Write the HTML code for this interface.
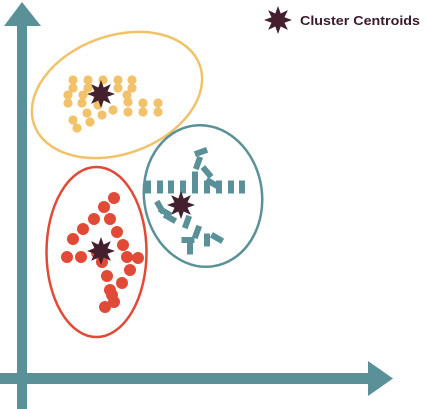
<!DOCTYPE html>
<html><head><meta charset="utf-8">
<style>
html,body{margin:0;padding:0;background:#fff;}
svg{display:block;}
</style></head>
<body>
<svg id="chart" width="428" height="409" viewBox="0 0 428 409" xmlns="http://www.w3.org/2000/svg">
  <rect width="428" height="409" fill="#fff"/>
  <g id="clusters"></g>
  <g>
    <rect x="17" y="24" width="10" height="385" fill="#5a9198"/>
    <polygon points="22,2 41,26 4,26" fill="#5a9198"/>
  </g>
  <g>
    <rect x="0" y="373" width="370" height="11" fill="#5a9198"/>
    <polygon points="368,361 393,378.5 368,396" fill="#5a9198"/>
  </g>
  <g>
    <g id="legendStar"></g>
    <text x="300" y="25" font-family="Liberation Sans, sans-serif" font-weight="bold" font-size="13" textLength="120" lengthAdjust="spacingAndGlyphs" fill="#3d1a2a">Cluster Centroids</text>
  </g>
</svg>
<script>
const yellowPts=[[73,80],[88,80],[103,80],[118,80],[132,80],[73,88],[88,88],[118,88],[132,88],[68,95],[83,95],[97,95],[127,95],[68,103],[82,103],[98,105],[113,110],[128,102],[128,112],[143,103],[143,112],[158,103],[158,112],[87,113],[102,115],[73,120],[90,122],[77,128]];
const redPts=[[114,198],[104,207],[110,219],[94,219],[83,229],[117,232],[73,239],[123,245],[67,257],[81,257],[97,253],[102,262],[127,257],[138,258],[130,270],[107,276],[122,283],[110,290],[112,295],[114,302],[105,307]];
const tealDashes=[[148,187,0],[160,187,0],[171,187,0],[183,187,0],[195,187,0],[207,187,0],[219,187,0],[231,187,0],[242,187,0],[201,152,70],[198,163,20],[207,172,-40],[195,178,0],[212,183,-60],[165,212,-60],[170,218,-60],[187,222,20],[197,232,20],[188,240,90],[207,240,0],[217,238,-60],[190,248,0],[160,207,-30]];
const centroids=[[101,94],[181,205],[101,251]];
const ellipses=[[117,95,88,59,-20,'#f2c26a'],[203,196,59,71,-8,'#5a9198'],[96.5,252,50,85,0,'#e04a37']];
const NS='http://www.w3.org/2000/svg';
const g=document.getElementById('clusters');
function mk(t,a){const e=document.createElementNS(NS,t);for(const k in a)e.setAttribute(k,a[k]);return e;}
ellipses.forEach(e=>{
  const el=mk('ellipse',{cx:e[0],cy:e[1],rx:e[2],ry:e[3],fill:'none',stroke:e[5],'stroke-width':2.5,transform:`rotate(${e[4]} ${e[0]} ${e[1]})`});
  
  
  g.appendChild(el);
});
yellowPts.forEach(p=>{
  const c=mk('circle',{cx:p[0],cy:p[1],r:4.6,fill:'#f2c26a'});
  
  
  g.appendChild(c);
});
redPts.forEach(p=>{
  const c=mk('circle',{cx:p[0],cy:p[1],r:6,fill:'#e04a37'});
  
  
  g.appendChild(c);
});
tealDashes.forEach(p=>{
  const r=mk('rect',{x:p[0]-3,y:p[1]-6.5,width:6,height:13,fill:'#5a9198',transform:`rotate(${p[2]} ${p[0]} ${p[1]})`});
  
  
  g.appendChild(r);
});
function star(cx,cy,R,r){let s=[];for(let i=0;i<16;i++){const a=Math.PI*i/8-Math.PI/2;const rr=i%2?r:R;s.push((cx+rr*Math.cos(a)).toFixed(1)+','+(cy+rr*Math.sin(a)).toFixed(1));}return s.join(' ');}
centroids.forEach(c=>{
  const s=mk('polygon',{points:star(c[0],c[1],14,7),fill:'#44202f'});
  
  
  g.appendChild(s);
});
const ls=mk('polygon',{points:star(278,20,14,7),fill:'#44202f'});
document.getElementById('legendStar').appendChild(ls);
</script>
</body></html>
